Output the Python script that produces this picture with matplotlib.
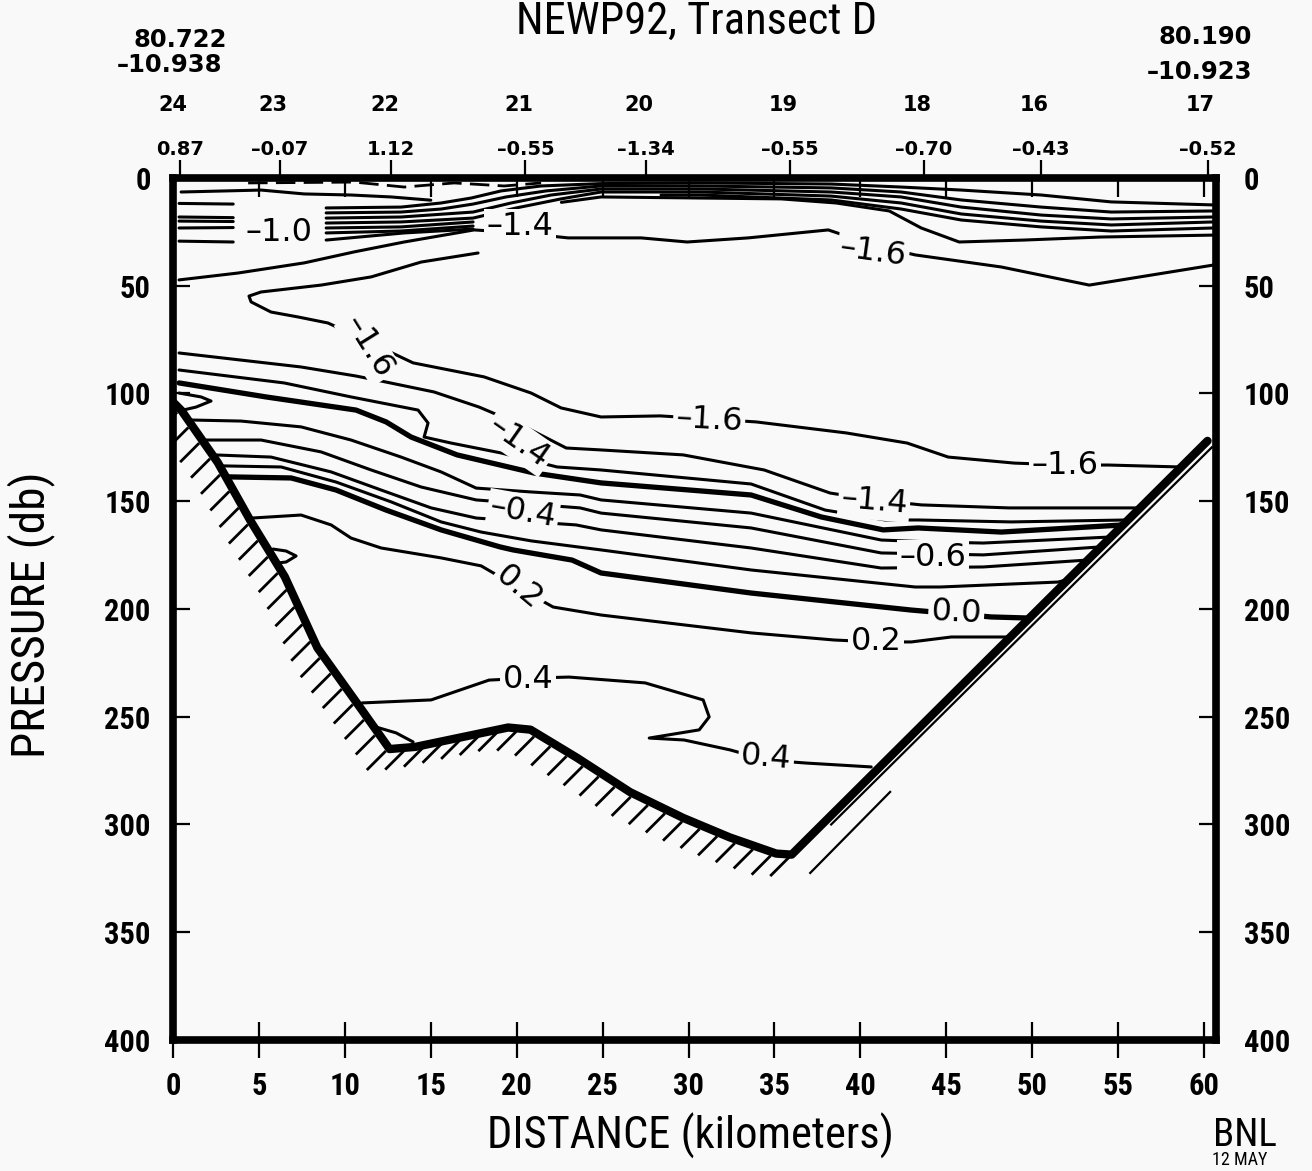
import matplotlib
matplotlib.use("Agg")
import matplotlib.pyplot as plt
import matplotlib.transforms as mtransforms
from matplotlib import font_manager
import numpy as np

# ---------------- header / station info ----------------
stations = ["24", "23", "22", "21", "20", "19", "18", "16", "17"]
station_km = [0.4, 6.2, 12.7, 20.5, 27.5, 35.9, 43.7, 50.5, 60.2]
station_vals = ["0.87", "–0.07", "1.12", "–0.55", "–1.34", "–0.55", "–0.70", "–0.43", "–0.52"]
start_pos = ["80.722", "–10.938"]
end_pos = ["80.190", "–10.923"]

dist_ticks = list(range(0, 61, 5))
pres_ticks = list(range(0, 401, 50))

# ---------------- bottom profile (km, db) ----------------
bottom = [(0.0, 104), (0.5, 108), (2.6, 132), (4.5, 159), (6.5, 185), (8.4, 218),
          (11.0, 247), (12.6, 265), (14.1, 264), (16.8, 259.5), (19.5, 255),
          (20.8, 256), (23.5, 269), (26.6, 285), (29.7, 297), (32.4, 306),
          (35.1, 313.5), (36.0, 314), (60.2, 122)]
bank_inner = [(38.3, 300), (60.45, 125)]
bank_outer = [(37.08, 322.5), (41.73, 284.9)]

# ---------------- contour traces (km, db) ----------------
surf_dash = [(4.37, 2.3), (10.54, 1.9), (13.45, 4.2), (16.36, 2.3), (19.27, 3.7), (21.42, 2.3)]
surf_t1 = [(0.47, 6.5), (5.12, 5.6), (7.63, 7.4), (10.36, 7.9), (12.69, 8.8), (15.0, 10.3)]
left_short = [
    [(0.35, 11.8), (3.5, 12.1)],
    [(0.35, 18.1), (3.5, 18.4)],
    [(0.35, 20.0), (3.5, 20.2)],
    [(0.35, 23.2), (3.5, 23.0)],
    [(0.35, 29.3), (3.5, 29.7)],
]
b1 = [(8.91, 13.9), (13.27, 13.5), (15.60, 11.6), (17.35, 9.3), (19.09, 6.0), (21.42, 3.7),
      (24.91, 2.6), (30.73, 2.3), (38.30, 2.8), (42.37, 4.2), (45.87, 5.6), (50.52, 7.9),
      (54.60, 11.1), (60.54, 12.5)]
b2 = [(8.91, 16.2), (13.27, 15.8), (15.60, 14.4), (17.46, 12.1), (19.38, 8.8), (21.71, 6.0),
      (24.91, 3.7), (30.73, 3.7), (38.30, 4.6), (42.37, 6.5), (45.87, 10.2), (50.52, 13.5),
      (54.60, 15.8), (60.54, 15.3)]
b3 = [(8.91, 18.6), (13.27, 18.1), (17.46, 15.8), (19.67, 11.6), (22.00, 7.9), (24.91, 5.1),
      (30.73, 5.1), (38.30, 6.5), (42.37, 8.8), (45.87, 13.5), (50.52, 17.2), (54.60, 19.0),
      (60.54, 18.1)]
b4 = [(8.91, 20.9), (13.27, 20.4), (17.46, 18.6), (19.97, 13.9), (22.58, 9.7), (24.91, 6.5),
      (30.73, 6.5), (38.30, 8.4), (42.37, 11.6), (45.87, 16.7), (50.52, 20.0), (54.60, 21.8),
      (60.54, 20.4)]
b5 = [(8.91, 23.2), (13.27, 22.7), (17.46, 20.4)]
b6 = [(8.91, 25.5), (13.27, 24.6), (17.46, 22.3)]
b7 = [(8.91, 28.8), (13.45, 25.5), (17.46, 23.7)]
r5 = [(28.40, 7.9), (30.73, 7.9), (38.30, 10.2), (42.37, 14.4), (45.87, 19.5), (50.52, 22.7),
      (54.60, 24.6), (60.54, 23.2)]
r1 = [(22.6, 11.3), (24.91, 8.8), (30.73, 9.3), (35.39, 9.7), (38.59, 11.6), (41.68, 15.3),
      (43.54, 23.2), (45.75, 29.7), (49.53, 28.8), (53.96, 27.4), (60.54, 26.5)]
upper_16 = [(0.35, 47.3), (3.78, 44.1), (7.63, 39.4), (10.54, 34.3), (13.45, 29.7), (17.52, 24.1),
            (20.26, 25.5), (22.99, 27.8), (27.24, 27.8), (29.92, 29.7), (33.47, 27.8),
            (38.13, 24.1), (40.75, 31.1), (43.19, 35.7), (48.20, 41.3), (53.32, 49.7),
            (60.54, 40.4)]
tongue_16 = [(17.75, 34.8), (14.44, 39.0), (11.53, 45.9), (8.61, 49.7), (5.12, 52.9), (4.42, 54.8),
             (4.54, 57.5), (5.70, 62.2), (7.28, 64.5), (9.02, 67.3), (11.53, 76.6), (13.97, 85.8),
             (18.10, 92.3), (20.84, 99.8), (22.58, 106.7), (24.91, 110.9), (28.35, 110.4),
             (31.20, 111.8), (33.94, 113.2), (39.17, 118.3), (42.72, 123.0), (45.11, 129.5),
             (48.95, 132.3), (51.98, 133.2), (54.42, 133.2), (58.6, 134.1)]
m1 = [(0.35, 81.2), (7.45, 87.7), (10.65, 91.9), (12.40, 94.7), (15.19, 99.3), (17.81, 106.3),
      (20.26, 114.6), (22.88, 125.3), (24.91, 126.2), (29.69, 128.5), (34.40, 135.5),
      (38.24, 146.2), (40.80, 149.4), (43.54, 151.7), (48.66, 153.1), (56.23, 153.1)]
m2 = [(0.35, 89.1), (6.46, 95.1), (10.36, 101.6), (14.26, 107.7), (14.84, 113.7), (14.61, 120.2),
      (16.18, 123.0), (19.09, 127.6), (22.35, 134.1), (24.91, 135.5), (33.64, 142.0),
      (37.95, 154.1), (41.44, 158.7), (43.36, 158.7), (48.78, 159.6), (55.5, 158.7)]
m3 = [(0.35, 95.1), (5.41, 101.6), (10.65, 107.7), (12.40, 113.2), (13.85, 120.2), (16.53, 128.5),
      (21.01, 136.9), (24.91, 141.5), (33.64, 147.1), (37.72, 157.3), (41.33, 163.3),
      (43.36, 162.4), (48.20, 164.3), (55.3, 161.0)]
loop_small = [(0.35, 99.8), (1.63, 101.6), (2.21, 103.5), (1.34, 106.3), (0.58, 107.7)]
m4 = [(1.0, 112.3), (3.96, 112.8), (7.45, 115.5), (10.36, 121.6), (13.27, 129.5), (15.60, 136.4),
      (17.64, 143.9), (20.84, 145.7), (23.69, 147.1), (24.91, 149.4), (33.64, 155.5),
      (41.21, 168.0), (44.12, 168.9), (47.15, 169.4), (54.54, 166.6)]
m5 = [(1.8, 121.6), (5.12, 121.6), (8.61, 127.1), (11.53, 135.5), (14.44, 143.4), (17.64, 149.4),
      (23.69, 153.1), (24.91, 155.5), (33.64, 162.4), (41.21, 174.0), (47.15, 174.9),
      (53.96, 171.2)]
m6 = [(2.4, 128.5), (5.70, 129.5), (9.20, 136.4), (12.11, 144.8), (15.02, 153.1), (17.64, 157.8),
      (23.46, 161.0), (24.91, 163.3), (33.64, 171.7), (41.21, 181.0), (47.15, 180.5),
      (53.20, 177.3)]
m7 = [(2.9, 133.6), (6.29, 134.1), (9.49, 141.1), (12.69, 150.3), (15.60, 159.6), (17.93, 164.3),
      (20.84, 168.4), (24.91, 172.6), (33.64, 181.9), (43.19, 189.8), (44.65, 189.8),
      (51.51, 187.5), (51.98, 186.5)]
m8 = [(3.2, 138.7), (6.87, 139.2), (9.49, 144.8), (12.40, 154.1), (15.60, 163.3), (19.03, 171.2),
      (19.79, 172.6), (23.22, 177.3), (24.91, 183.3), (33.64, 192.6), (42.96, 200.5),
      (47.61, 203.7), (49.77, 204.2)]
m9 = [(4.6, 157.8), (7.45, 156.4), (9.20, 161.0), (10.36, 167.1), (12.11, 171.7), (15.60, 176.3),
      (17.93, 180.0), (20.15, 190.3), (22.12, 199.1), (24.91, 202.8), (33.64, 211.1),
      (38.48, 214.4), (40.92, 215.3), (42.96, 215.3), (45.29, 213.0), (48.66, 213.0)]
hook_02 = [(5.82, 172.2), (6.58, 173.1), (7.16, 175.4), (6.58, 178.2), (6.05, 178.7)]
c04 = [(11.0, 243.6), (15.02, 242.2), (18.39, 233.0), (20.66, 232.1), (23.05, 231.6),
       (27.47, 234.3), (30.85, 242.2), (31.20, 250.1), (30.62, 256.1), (27.71, 259.9),
       (29.74, 260.8), (32.42, 265.4), (34.52, 270.1), (36.85, 271.5), (40.63, 273.3)]
arc_04 = [(11.82, 254.8), (12.98, 257.5), (13.97, 261.7)]

thin_lines = [surf_t1, *left_short, b1, b2, b3, b4, b5, b6, b7, r5, r1, upper_16, tongue_16,
              m1, m2, loop_small, m4, m5, m6, m7, m9, hook_02, c04, arc_04]
thick_lines = [m3, m8]

contour_labels = [
    ("–1.0", 6.17, 25.1, 0), ("–1.4", 20.20, 22.7, 0), ("–1.6", 40.75, 34.3, -8),
    ("–1.6", 11.35, 78.4, -58), ("–1.6", 31.20, 112.3, -3), ("–1.4", 20.14, 122.5, -35),
    ("–1.6", 51.92, 133.6, 0), ("–1.4", 40.80, 150.3, -5), ("–0.4", 20.37, 155.0, -10),
    ("0.2", 20.14, 190.3, -40), ("–0.6", 44.24, 176.3, 0), ("0.0", 45.58, 201.9, -3),
    ("0.2", 40.92, 215.3, 0), ("0.4", 20.66, 232.9, 0), ("0.4", 34.52, 269.1, -5),
]

# ---------------- fonts: a narrow face if one is installed ----------------
NARROW, STRETCH, SHRINK = "DejaVu Sans", "normal", 0.8
_wanted = ["Liberation Sans Narrow", "Roboto Condensed", "Open Sans Condensed",
           "Noto Sans Condensed", "DejaVu Sans Condensed", "Arial Narrow"]
for f in font_manager.fontManager.ttflist:
    if f.name in _wanted:
        NARROW, STRETCH, SHRINK = f.name, "normal", 1.0
        break
else:
    for f in font_manager.fontManager.ttflist:
        if f.name in ("Noto Sans", "Open Sans", "Roboto", "DejaVu Sans") and "condensed" in str(f.stretch):
            NARROW, STRETCH, SHRINK = f.name, f.stretch, 0.95
            break
plt.rcParams["font.family"] = [NARROW, "DejaVu Sans"]
plt.rcParams["font.stretch"] = STRETCH
BG = "#f9f9f9"

fig = plt.figure(figsize=(13.12, 11.71), dpi=100, facecolor=BG)
ax = fig.add_axes([0.1319, 0.1119, 0.7950, 0.7361])
ax.set_facecolor(BG)
ax.set_xlim(0, 60.7)
ax.set_ylim(400, 0)

for sp in ax.spines.values():
    sp.set_linewidth(5.5)

tick_font = dict(fontweight="bold", fontsize=22 * SHRINK, fontfamily=NARROW, fontstretch=STRETCH)
# bottom axis
ax.set_xticks(dist_ticks, labels=[str(v) for v in dist_ticks], **tick_font)
ax.tick_params(axis="x", direction="inout", length=26, width=1.6, pad=9, top=False)
# left axis
ax.set_yticks(pres_ticks, labels=[str(v) for v in pres_ticks], **tick_font)
ax.tick_params(axis="y", direction="in", length=12, width=1.6, pad=16, right=False)
# right axis
ax_r = ax.secondary_yaxis("right")
ax_r.set_yticks(pres_ticks, labels=[str(v) for v in pres_ticks], **tick_font)
ax_r.tick_params(direction="in", length=12, width=1.6, pad=20)
ax_r.spines["right"].set_visible(False)
# top: 5 km ticks pointing in
ax_t = ax.secondary_xaxis("top")
ax_t.set_xticks(dist_ticks, labels=[""] * len(dist_ticks))
ax_t.tick_params(direction="in", length=14, width=1.6)
ax_t.spines["top"].set_visible(False)
# top: stations with surface values
ax_s = ax.secondary_xaxis("top")
ax_s.set_xticks(station_km, labels=station_vals, fontweight="bold", fontsize=14,
                fontfamily="DejaVu Sans")
ax_s.tick_params(direction="out", length=13, width=1.6, pad=1)
ax_s.spines["top"].set_visible(False)

hdr = mtransforms.blended_transform_factory(ax.transData, ax.transAxes)
for s, x in zip(stations, station_km):
    ax.text(x - 0.4, 1.0847, s, transform=hdr, ha="center", va="center",
            fontsize=15, fontweight="bold", family="DejaVu Sans", clip_on=False)

ax.set_xlabel("DISTANCE (kilometers)", fontsize=32 * SHRINK, fontstretch=STRETCH)
ax.xaxis.set_label_coords(0.4957, -0.085)
ax.set_ylabel("PRESSURE (db)", fontsize=34 * SHRINK, fontstretch=STRETCH)
ax.yaxis.set_label_coords(-0.113, 0.493)

fig.text(697 / 1312, 1 - 22 / 1171, "NEWP92, Transect D", fontsize=32 * SHRINK,
         fontstretch=STRETCH, ha="center", va="center")
fig.text(180 / 1312, 1 - 40 / 1171, start_pos[0], fontsize=17.5, fontweight="bold",
         family="DejaVu Sans", ha="center", va="center")
fig.text(170 / 1312, 1 - 65 / 1171, start_pos[1], fontsize=17.5, fontweight="bold",
         family="DejaVu Sans", ha="center", va="center")
fig.text(1205 / 1312, 1 - 37 / 1171, end_pos[0], fontsize=17.5, fontweight="bold",
         family="DejaVu Sans", ha="center", va="center")
fig.text(1200 / 1312, 1 - 72 / 1171, end_pos[1], fontsize=17.5, fontweight="bold",
         family="DejaVu Sans", ha="center", va="center")
fig.text(1245 / 1312, 1 - 1135 / 1171, "BNL", fontsize=28 * SHRINK, fontstretch=STRETCH,
         ha="center", va="center")
fig.text(1212 / 1312, 2 / 1171, "12 MAY", fontsize=13, fontstretch=STRETCH,
         ha="left", va="bottom")

# ---------------- contours ----------------
for line in thin_lines:
    xs, ps = zip(*line)
    ax.plot(xs, ps, color="black", lw=2.2, solid_capstyle="round", solid_joinstyle="round")
for line in thick_lines:
    xs, ps = zip(*line)
    ax.plot(xs, ps, color="black", lw=3.8, solid_capstyle="round", solid_joinstyle="round")
xs, ps = zip(*surf_dash)
ax.plot(xs, ps, color="black", lw=2.0, dashes=(7, 3))

for txt, x, p, rot in contour_labels:
    ax.text(x, p, txt, fontsize=23, family="DejaVu Sans", rotation=rot,
            rotation_mode="anchor", ha="center", va="center", zorder=5,
            bbox=dict(boxstyle="square,pad=0.08", fc=BG, ec="none"))

# ---------------- bottom + hatching ----------------
bx, bp = zip(*bottom)
ax.plot(bx, bp, color="black", lw=6.0, solid_joinstyle="round", solid_capstyle="round", zorder=6)
xs, ps = zip(*bank_inner)
ax.plot(xs, ps, color="black", lw=1.6, zorder=6)
xs, ps = zip(*bank_outer)
ax.plot(xs, ps, color="black", lw=1.6, zorder=6)

disp = ax.transData.transform(np.column_stack([bx, bp]))
seg = np.diff(disp, axis=0)
seglen = np.hypot(seg[:, 0], seg[:, 1])
cum = np.concatenate([[0.0], np.cumsum(seglen)])
inv = ax.transData.inverted()
for s in np.arange(10.0, cum[-1], 19.0):
    i = min(np.searchsorted(cum, s) - 1, len(seglen) - 1)
    p0 = disp[i] + (s - cum[i]) / seglen[i] * seg[i]
    if inv.transform(p0)[0] > 36.3:
        break
    a = inv.transform(p0 + np.array([-3.0, -3.0]))
    b = inv.transform(p0 + np.array([-22.0, -22.0]))
    ax.plot([a[0], b[0]], [a[1], b[1]], color="black", lw=2.0, solid_capstyle="butt", zorder=6)

fig.savefig("out.png", dpi=100, facecolor=BG)
